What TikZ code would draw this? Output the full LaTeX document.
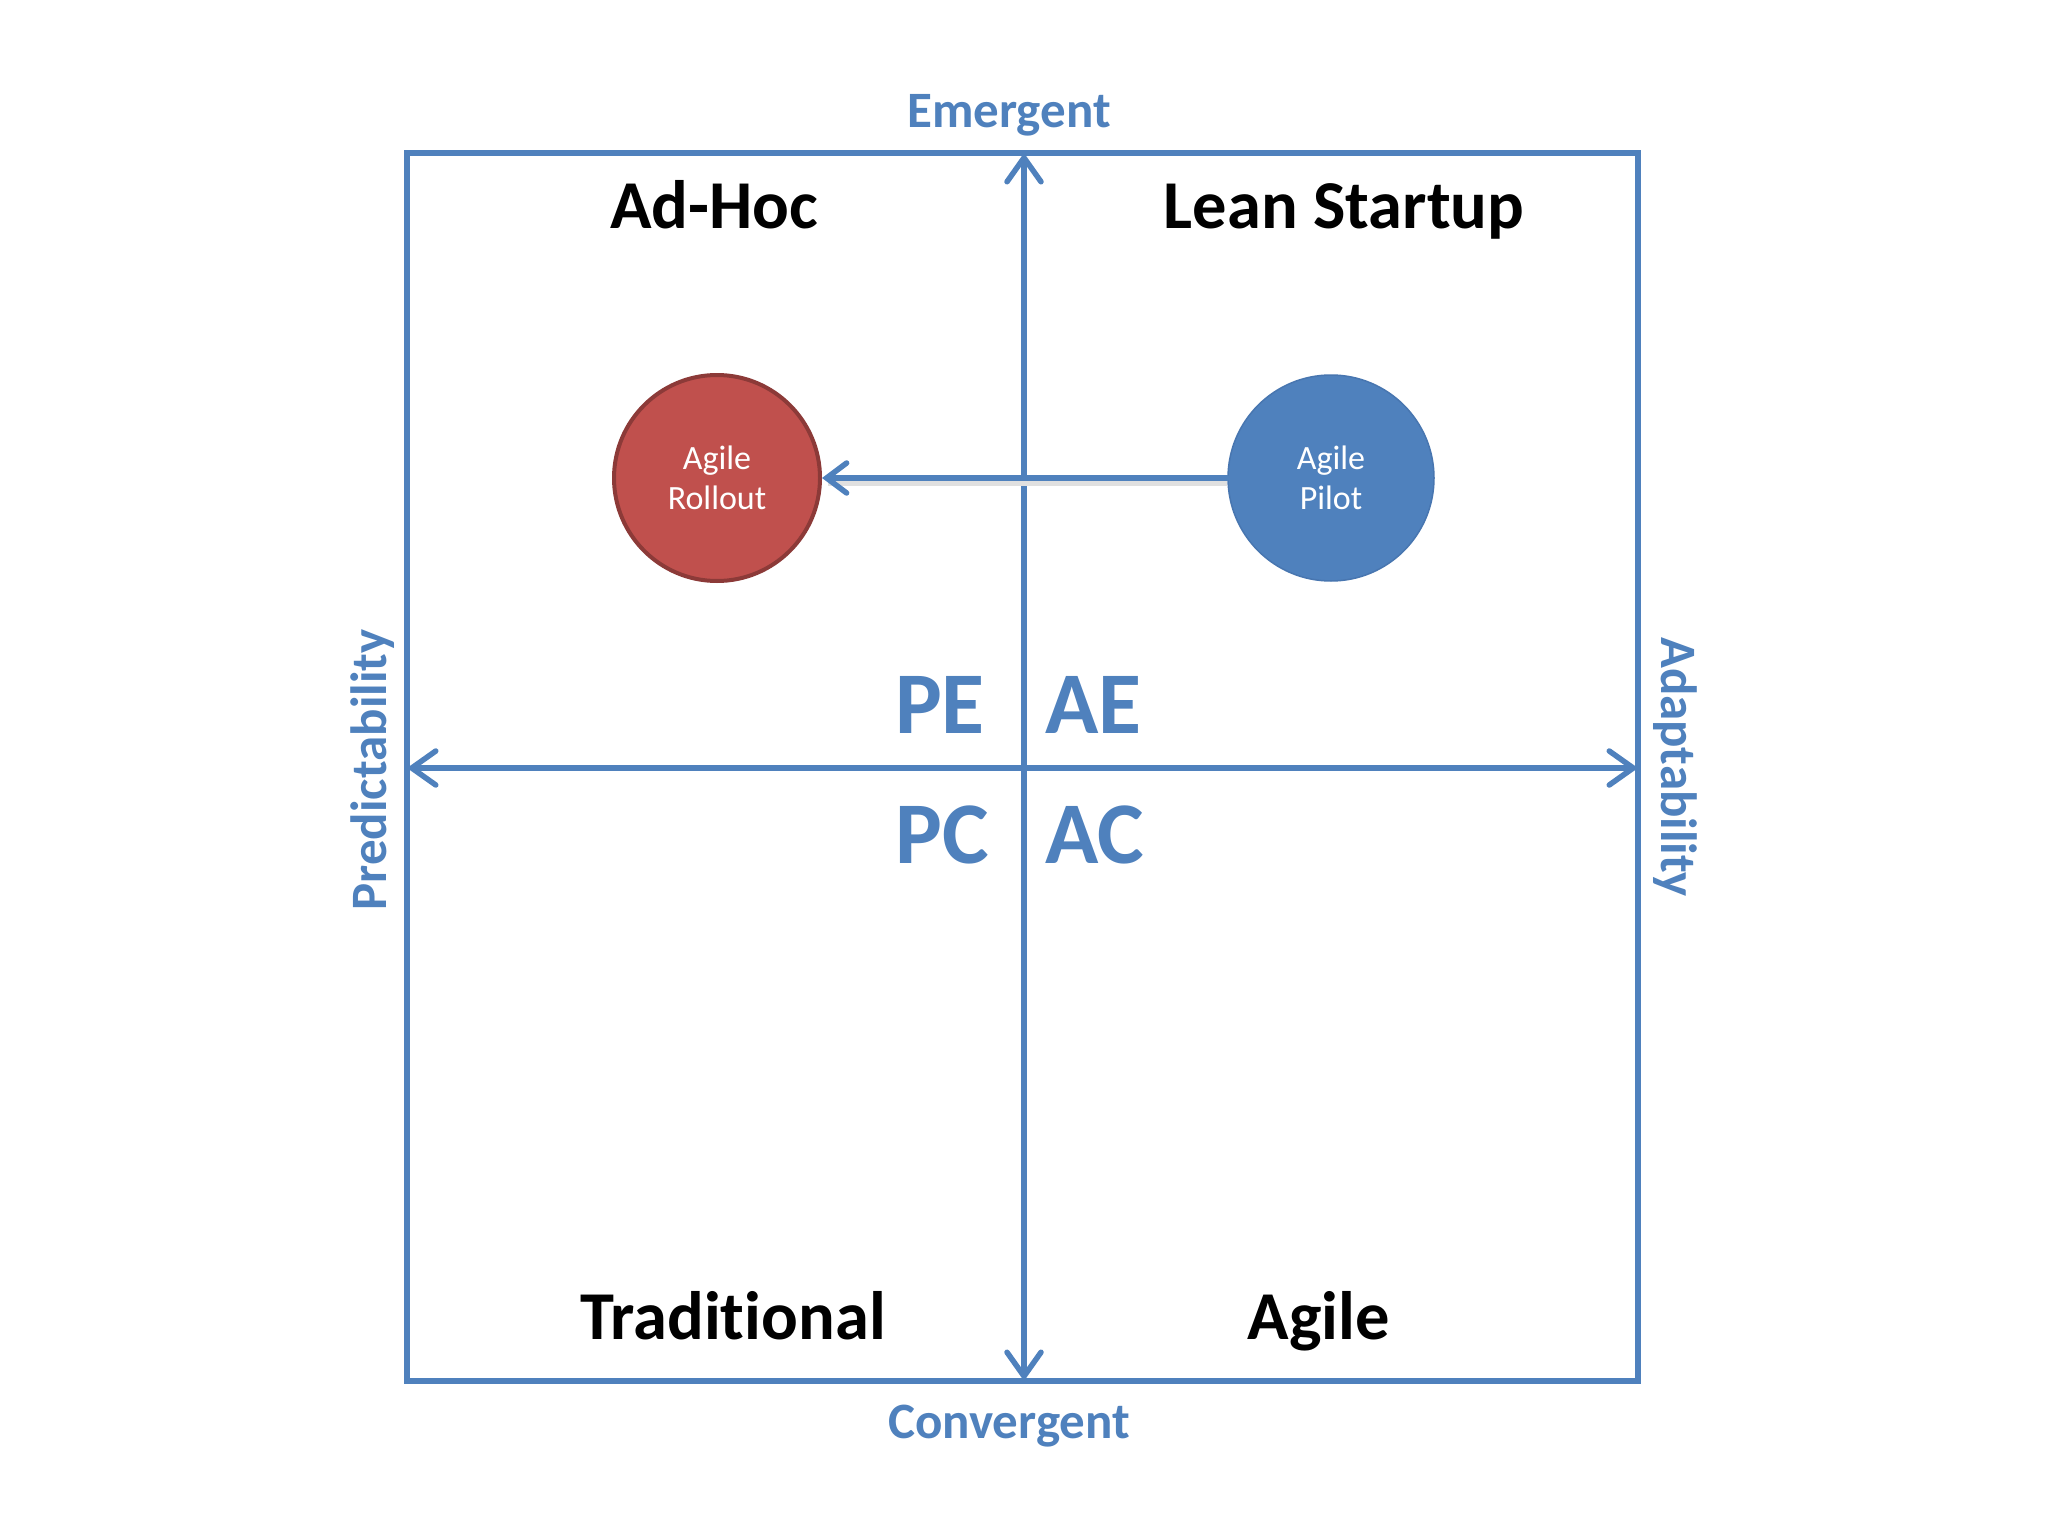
\documentclass[tikz,border=0pt]{standalone}
\usepackage{fontspec}
\setmainfont{Carlito}[Ligatures=NoCommon]
\usetikzlibrary{arrows.meta}
\definecolor{ofblue}{HTML}{4F81BD}
\definecolor{ofred}{HTML}{C0504D}
\definecolor{ofredd}{HTML}{8C3A38}
\definecolor{ofblued}{HTML}{4876B0}
\tikzset{
  frame/.style={draw=ofblue, line width=6pt, line join=miter},
  axis/.style={draw=ofblue, line width=5.5pt, line cap=round,
    {Straight Barb[length=24pt, width=34pt, line cap=round]}-{Straight Barb[length=24pt, width=34pt, line cap=round]}},
  quad/.style={font=\bfseries\fontsize{68.5}{80}\selectfont, text=black, anchor=base, inner sep=0pt},
  axlab/.style={font=\bfseries\fontsize{51}{60}\selectfont, text=ofblue, anchor=base, inner sep=0pt},
  code/.style={font=\bfseries\fontsize{88}{100}\selectfont, text=ofblue, anchor=base, inner sep=0pt},
  bubble/.style={circle, minimum size=206pt, inner sep=0pt, align=center, text=white,
    font=\fontsize{34}{40}\selectfont},
  move/.style={draw=ofblue, line width=5.5pt, line cap=round,
    -{Straight Barb[length=20pt, width=30pt, line cap=round]}},
}
\begin{document}
\begin{tikzpicture}[x=1pt,y=-1pt]
\useasboundingbox[fill=white] (0,0) rectangle (2048,1536);
% frame
\coordinate (tl) at (407,153);
\coordinate (br) at (1638,1381);
\draw[frame] (tl) rectangle (br);
% axis end points
\coordinate (left) at (407,768);
\coordinate (right) at (1638,768);
\coordinate (top) at (1024,153);
\coordinate (bottom) at (1024,1381);
\draw[axis] (left) -- (right);
\draw[axis] (bottom) -- (top);
% axis labels
\node[axlab] (emergent) at (1009,128) {Emergent};
\node[axlab] (convergent) at (1009,1438) {Convergent};
\node[axlab, rotate=90] (predict) at (386,770) {Predictability};
\node[axlab, rotate=-90] (adapt) at (1661,767) {Adaptability};
% quadrant titles
\node[quad] (adhoc) at (714,228) {Ad-Hoc};
\node[quad] (lean) at (1344,228) {Lean Startup};
\node[quad] (trad) at (733,1339) {Traditional};
\node[quad] (agile) at (1319,1339) {Agile};
% codes
\node[code, anchor=base east] (pe) at (985,733) {PE};
\node[code, anchor=base west] (ae) at (1045,733) {AE};
\node[code, anchor=base east] (pc) at (989,863) {PC};
\node[code, anchor=base west] (ac) at (1045,863) {AC};
% bubbles
\node[bubble, fill=ofred, draw=ofredd, line width=4pt] (rollout) at (717,478) {Agile\\Rollout};
\node[bubble, fill=ofblue, draw=ofblued, line width=1.5pt] (pilot) at (1331,478) {Agile\\Pilot};
\draw[draw=black!12, line width=6pt, transform canvas={yshift=-5pt}] (pilot.west) -- ([xshift=6pt]rollout.east);
\draw[move] (pilot.west) -- (rollout.east);
\end{tikzpicture}
\end{document}
